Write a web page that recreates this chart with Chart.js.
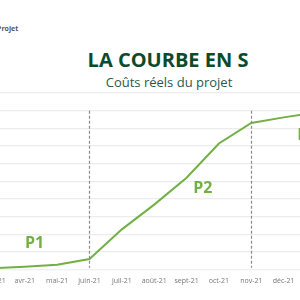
<!DOCTYPE html>
<html>
<head>
<meta charset="utf-8">
<script src="https://cdn.jsdelivr.net/npm/chart.js@4/dist/chart.umd.min.js"></script>
<style>
  html, body { margin: 0; padding: 0; background: #fff; }
  #page { position: relative; width: 300px; height: 300px; overflow: hidden; background: #fff; }
  .corner { position: absolute; left: -3px; top: 24px; line-height: 8px; font: bold 7px "Open Sans", sans-serif; color: #555; }
  .title { position: absolute; left: 0; width: 336px; top: 46px; text-align: center; font: bold 20px "Open Sans", sans-serif; color: #0c4a2c; white-space: nowrap; }
  .subtitle { position: absolute; left: 0; width: 338px; top: 73px; text-align: center; font: 13px "Open Sans", sans-serif; color: #2a5a4a; white-space: nowrap; }
  #wrap { position: absolute; left: -28px; top: 85px; width: 370px; height: 215px; }
</style>
</head>
<body>
<div id="page">
  <div class="corner">Projet</div>
  <div class="title">LA COURBE EN S</div>
  <div class="subtitle">Coûts réels du projet</div>
  <div id="wrap"><canvas id="courbe"></canvas></div>
</div>
<script>
// mois du projet et coûts cumulés (en unités de grille)
var mois = ['mars-21', 'avr-21', 'mai-21', 'juin-21', 'juil-21', 'août-21', 'sept-21', 'oct-21', 'nov-21', 'déc-21', 'janv-22'];
var couts = [0.08, 0.16, 0.27, 0.6, 2.28, 3.68, 5.2, 7.14, 8.3, 8.62, 8.9];
// limites de phases (index des mois) et étiquettes
var limites = [3, 8];
var phases = ['P1', 'P2', 'P3'];
var phasePos = [[1.3, 1.5], [6.5, 4.6], [9.72, 7.6]];

var vert = '#72b045';

var phasesPlugin = {
    id: 'phases',
    afterDatasetsDraw: function(chart) {
        var ctx = chart.ctx;
        var x = chart.scales.x, y = chart.scales.y;
        ctx.save();
        // lignes pointillées
        ctx.strokeStyle = '#8a8a8a';
        ctx.lineWidth = 1.2;
        ctx.setLineDash([3, 2]);
        limites.forEach(function(i) {
            var px = Math.round(x.getPixelForValue(i)) + 0.5;
            ctx.beginPath();
            ctx.moveTo(px, y.getPixelForValue(9));
            ctx.lineTo(px, y.getPixelForValue(0.1));
            ctx.stroke();
        });
        ctx.setLineDash([]);
        // étiquettes P1, P2, P3
        ctx.fillStyle = vert;
        ctx.font = 'bold 16px "Open Sans", sans-serif';
        ctx.textAlign = 'center';
        ctx.textBaseline = 'middle';
        phases.forEach(function(p, n) {
            ctx.fillText(p, x.getPixelForValue(phasePos[n][0]), y.getPixelForValue(phasePos[n][1]));
        });
        ctx.restore();
    }
};

var ctx = document.getElementById('courbe').getContext('2d');
var chart = new Chart(ctx, {
    type: 'line',
    data: {
        labels: mois,
        datasets: [{
            data: couts,
            borderColor: vert,
            borderWidth: 2,
            pointRadius: 0,
            tension: 0,
            fill: false
        }]
    },
    options: {
        responsive: true,
        maintainAspectRatio: false,
        animation: false,
        layout: { padding: { left: 20, right: 26, top: 8, bottom: 8 } },
        plugins: {
            legend: { display: false },
            tooltip: { enabled: false }
        },
        scales: {
            x: {
                offset: false,
                grid: { display: false, drawTicks: false },
                border: { display: true, color: '#f0f0f0' },
                ticks: {
                    autoSkip: false,
                    maxRotation: 0,
                    padding: 7,
                    color: '#777',
                    font: { family: 'Open Sans', size: 7 }
                }
            },
            y: {
                min: 0,
                max: 10,
                grid: { color: '#ececec', lineWidth: 1.2, drawTicks: false },
                border: { display: false },
                ticks: { display: false, stepSize: 1 }
            }
        }
    },
    plugins: [phasesPlugin]
});
</script>
</body>
</html>
